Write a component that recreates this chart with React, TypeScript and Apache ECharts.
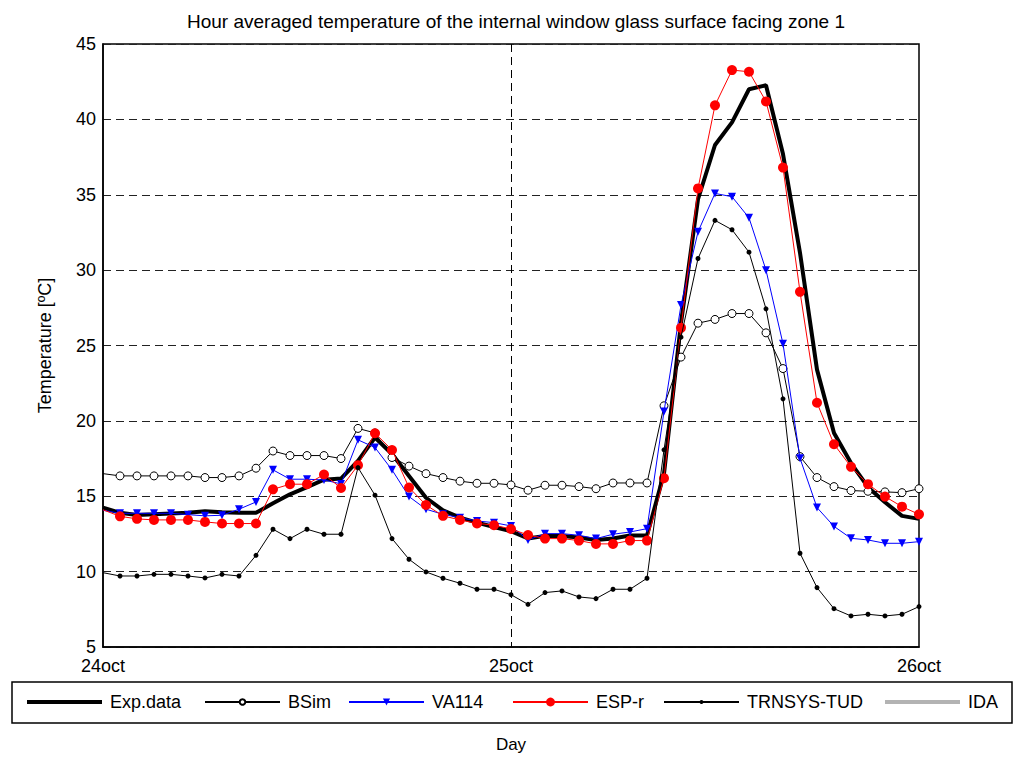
import React, { useEffect, useRef } from "react";
import * as echarts from "echarts";

// 49 hourly steps: 24 Oct 00:00 .. 26 Oct 00:00
const hours: string[] = [
  "24oct", "01", "02", "03", "04", "05", "06", "07", "08", "09", "10", "11",
  "12", "13", "14", "15", "16", "17", "18", "19", "20", "21", "22", "23",
  "25oct", "01", "02", "03", "04", "05", "06", "07", "08", "09", "10", "11",
  "12", "13", "14", "15", "16", "17", "18", "19", "20", "21", "22", "23",
  "26oct",
];
const dayLabels: Record<number, string> = { 0: "24oct", 24: "25oct", 48: "26oct" };

const expData = [
  14.25, 13.9, 13.76, 13.8, 13.85, 13.9, 14.0, 13.94, 13.9, 13.9, 14.53, 15.13,
  15.6, 16.1, 16.17, 17.35, 18.9, 17.8, 16.35, 14.9, 14.07, 13.58, 13.25, 12.96,
  12.68, 12.2, 12.37, 12.37, 12.26, 12.1, 12.2, 12.4, 12.4, 16.5, 26.5, 34.7,
  38.3, 39.8, 42.0, 42.26, 37.7, 31.15, 23.4, 19.2, 17.2, 15.6, 14.6, 13.7, 13.5,
];
const bsim = [
  16.5, 16.35, 16.35, 16.35, 16.35, 16.35, 16.24, 16.24, 16.35, 16.86, 18.0, 17.7,
  17.7, 17.7, 17.5, 19.5, 19.2, 17.57, 17.0, 16.5, 16.24, 16.0, 15.86, 15.86,
  15.75, 15.4, 15.73, 15.73, 15.64, 15.5, 15.88, 15.88, 15.88, 21.0, 24.23, 26.48,
  26.73, 27.12, 27.12, 25.84, 23.47, 17.63, 16.24, 15.64, 15.38, 15.33, 15.29, 15.24, 15.5,
];
const va114 = [
  14.07, 13.87, 13.87, 13.87, 13.87, 13.78, 13.7, 13.74, 14.14, 14.62, 16.75, 16.13,
  16.13, 16.08, 15.82, 18.74, 18.23, 16.75, 14.98, 14.14, 13.8, 13.58, 13.36, 13.25,
  13.03, 12.1, 12.52, 12.52, 12.41, 12.19, 12.48, 12.63, 12.85, 20.62, 27.68, 32.54,
  35.09, 34.87, 33.47, 30.0, 25.11, 17.52, 14.25, 13.0, 12.21, 12.1, 11.88, 11.88, 11.99,
];
const espr = [
  14.1, 13.67, 13.5, 13.43, 13.43, 13.43, 13.3, 13.19, 13.19, 13.19, 15.46, 15.8,
  15.8, 16.44, 15.55, 17.06, 19.18, 18.07, 15.58, 14.42, 13.7, 13.43, 13.2, 13.08,
  12.83, 12.43, 12.19, 12.19, 12.06, 11.84, 11.84, 12.06, 12.06, 16.2, 26.17, 35.42,
  40.93, 43.27, 43.16, 41.19, 36.8, 28.56, 21.2, 18.45, 16.95, 15.8, 14.98, 14.31, 13.8,
];
const trnsys = [
  9.93, 9.71, 9.71, 9.82, 9.82, 9.71, 9.58, 9.82, 9.71, 11.08, 12.81, 12.19,
  12.81, 12.48, 12.48, 16.9, 15.07, 12.19, 10.82, 9.98, 9.56, 9.23, 8.83, 8.83,
  8.47, 7.83, 8.61, 8.72, 8.32, 8.21, 8.83, 8.83, 9.56, 18.08, 25.55, 30.77,
  33.3, 32.68, 31.19, 27.43, 21.46, 11.22, 8.94, 7.54, 7.06, 7.17, 7.06, 7.17, 7.68,
];
const ida: number[] = [];

const FONT = "Liberation Sans, Arial, sans-serif";

export default function App() {
  const ref = useRef<HTMLDivElement>(null);

  useEffect(() => {
    if (!ref.current) return;
    const chart = echarts.init(ref.current, undefined, { renderer: "svg" });

    const withMarks = (arr: number[]) =>
      arr.map((v, i) => (i === 0 ? { value: v, symbol: "none" } : v));

    const legendItem = (
      name: string,
      left: number,
      itemHeight: number,
      icon?: string
    ) => ({
      left,
      top: 692,
      padding: 0,
      orient: "horizontal",
      itemWidth: 75,
      itemHeight,
      selectedMode: false,
      data: [icon ? { name, icon } : { name }],
      textStyle: {
        fontFamily: FONT,
        fontSize: 18,
        color: "#000",
        lineHeight: 20,
        padding: [0, 0, 0, 3],
      },
    });

    chart.setOption({
      animation: false,
      backgroundColor: "#fff",
      textStyle: { fontFamily: FONT },
      title: {
        text: "Hour averaged temperature of the internal window glass surface facing zone 1",
        left: 511,
        textAlign: "center",
        top: 7,
        textStyle: { fontFamily: FONT, fontSize: 19, fontWeight: "normal", color: "#000" },
      },
      grid: {
        left: 103,
        right: 94,
        top: 44,
        bottom: 114,
        show: true,
        borderColor: "#000",
        borderWidth: 1.5,
        backgroundColor: "transparent",
      },
      legend: [
        legendItem("Exp.data", 27, 4, "rect"),
        legendItem("BSim", 204, 7),
        legendItem("VA114", 348, 9),
        legendItem("ESP-r", 512, 11),
        legendItem("TRNSYS-TUD", 663, 5),
        legendItem("IDA", 885, 4, "rect"),
      ],
      graphic: [
        {
          type: "rect",
          shape: { x: 12, y: 682, width: 1000, height: 41 },
          style: { fill: "none", stroke: "#000", lineWidth: 1.5 },
          z: -1,
        },
      ],
      xAxis: {
        type: "category",
        data: hours,
        boundaryGap: false,
        name: "Day",
        nameLocation: "middle",
        nameGap: 89,
        nameTextStyle: { fontFamily: FONT, fontSize: 17, color: "#000" },
        axisLine: { show: true, lineStyle: { color: "#000", width: 1.5 } },
        axisTick: { show: false },
        axisLabel: {
          interval: (i: number) => i in dayLabels,
          formatter: (_v: string, i: number) => dayLabels[i] ?? "",
          fontFamily: FONT,
          fontSize: 18,
          color: "#000",
          margin: 10,
        },
        splitLine: {
          show: true,
          interval: (i: number) => i === 24,
          lineStyle: { color: "#000", type: [8, 5], width: 1 },
        },
      },
      yAxis: {
        type: "value",
        min: 5,
        max: 45,
        interval: 5,
        name: "Temperature [ºC]",
        nameLocation: "middle",
        nameGap: 49,
        nameTextStyle: { fontFamily: FONT, fontSize: 18, color: "#000" },
        axisLine: { show: true, lineStyle: { color: "#000", width: 1.5 } },
        axisTick: { show: false },
        axisLabel: { fontFamily: FONT, fontSize: 18, color: "#000", margin: 7 },
        splitLine: {
          show: true,
          lineStyle: { color: "#222", type: [8, 5], width: 1 },
        },
      },
      series: [
        {
          name: "Exp.data",
          type: "line",
          data: expData,
          showSymbol: false,
          symbol: "none",
          color: "#000",
          lineStyle: { color: "#000", width: 4 },
          z: 2,
        },
        {
          name: "BSim",
          type: "line",
          data: withMarks(bsim),
          symbol: "circle",
          symbolSize: 8,
          color: "#000",
          itemStyle: { color: "#fff", borderColor: "#000", borderWidth: 1 },
          lineStyle: { color: "#000", width: 1 },
          z: 3,
        },
        {
          name: "VA114",
          type: "line",
          data: withMarks(va114),
          symbol: "triangle",
          symbolRotate: 180,
          symbolSize: 8,
          color: "#0000ff",
          itemStyle: { color: "#0000ff" },
          lineStyle: { color: "#0000ff", width: 1 },
          z: 4,
        },
        {
          name: "ESP-r",
          type: "line",
          data: withMarks(espr),
          symbol: "circle",
          symbolSize: 10,
          color: "#ff0000",
          itemStyle: { color: "#ff0000" },
          lineStyle: { color: "#ff0000", width: 1 },
          z: 5,
        },
        {
          name: "TRNSYS-TUD",
          type: "line",
          data: withMarks(trnsys),
          symbol: "circle",
          symbolSize: 5,
          color: "#000",
          itemStyle: { color: "#000" },
          lineStyle: { color: "#000", width: 1 },
          z: 6,
        },
        {
          name: "IDA",
          type: "line",
          data: ida,
          symbol: "none",
          color: "#b3b3b3",
          lineStyle: { color: "#b3b3b3", width: 4 },
          z: 1,
        },
      ],
    });

    return () => chart.dispose();
  }, []);

  return (
    <div
      ref={ref}
      style={{ position: "fixed", left: 0, top: 0, width: 1013, height: 761 }}
    />
  );
}
